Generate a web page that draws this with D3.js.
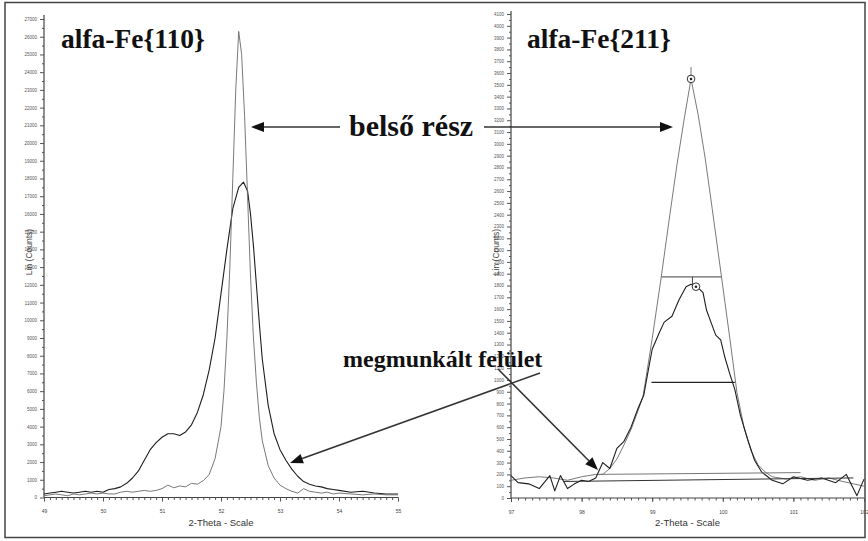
<!DOCTYPE html>
<html>
<head>
<meta charset="utf-8">
<script src="https://cdn.jsdelivr.net/npm/d3@7"></script>
<style>
  body { margin: 0; background: #fff; }
  svg { display: block; }
</style>
</head>
<body>
<div id="chart"></div>
<script>
// alfa-Fe{110} : [2-theta, counts]
var inner110 = [[49.0,100],[49.1,150],[49.2,200],[49.3,150],[49.4,100],[49.5,200],[49.6,150],[49.7,200],[49.8,250],[49.9,200],
  [50.0,250],[50.1,200],[50.2,200],[50.3,300],[50.4,350],[50.5,300],[50.6,350],[50.7,400],[50.8,350],[50.9,400],
  [51.0,500],[51.1,700],[51.2,550],[51.3,650],[51.4,600],[51.5,800],[51.6,750],[51.7,950],[51.8,1300],[51.9,2200],
  [52.0,4000],[52.05,6000],[52.1,9000],[52.15,13000],[52.2,18000],[52.25,23000],[52.3,26300],[52.35,25000],[52.4,21500],
  [52.45,17000],[52.5,12500],[52.55,9000],[52.6,6500],[52.65,4500],[52.7,3200],[52.8,1800],[52.9,1100],[53.0,700],
  [53.1,500],[53.2,350],[53.3,250],[53.4,500],[53.5,350],[53.6,300],[53.7,250],[53.8,300],[53.9,200],[54.0,250],
  [54.2,200],[54.4,150],[54.6,200],[54.8,150],[55.0,150]];
var surf110 = [[49.0,200],[49.1,250],[49.2,300],[49.3,350],[49.4,300],[49.5,250],[49.6,300],[49.7,350],[49.8,300],[49.9,350],
  [50.0,300],[50.1,450],[50.2,500],[50.3,600],[50.4,800],[50.5,1100],[50.6,1500],[50.7,2100],[50.8,2700],[50.9,3100],
  [51.0,3400],[51.1,3600],[51.2,3600],[51.3,3500],[51.4,3700],[51.5,4100],[51.6,4800],[51.7,5800],[51.8,7200],[51.9,9000],
  [52.0,11500],[52.1,14000],[52.2,16300],[52.3,17500],[52.38,17800],[52.45,17300],[52.5,16000],[52.55,14200],[52.6,12000],
  [52.65,9800],[52.7,7800],[52.8,5200],[52.9,3600],[53.0,2700],[53.1,2100],[53.2,1600],[53.3,1200],[53.4,900],
  [53.5,750],[53.6,650],[53.7,600],[53.8,500],[53.9,450],[54.0,400],[54.2,300],[54.4,350],[54.6,250],[54.8,200],[55.0,200]];

// alfa-Fe{211} : [2-theta, counts]
var inner211 = [[97.0,150],[97.2,170],[97.4,180],[97.6,170],[97.8,150],[98.0,180],[98.2,200],[98.3,200],[98.4,250],
  [98.5,330],[98.6,450],[98.7,580],[98.8,740],[98.87,860],[99.0,1350],[99.13,1880],[99.25,2400],[99.35,2820],
  [99.45,3200],[99.55,3550],[99.65,3250],[99.75,2880],[99.85,2450],[99.98,1880],[100.1,1350],[100.2,895],
  [100.3,600],[100.4,400],[100.5,280],[100.6,220],[100.7,180],[100.9,160],[101.1,180],[101.3,150],[101.5,170],
  [101.7,140],[101.85,120],[102.0,100]];
var surf211 = [[97.0,190],[97.1,130],[97.25,120],[97.4,80],[97.55,190],[97.62,60],[97.7,190],[97.8,80],[97.9,120],
  [98.0,150],[98.1,140],[98.2,170],[98.3,300],[98.4,250],[98.5,420],[98.6,480],[98.7,600],[98.8,760],[98.88,870],
  [98.95,1100],[99.0,1260],[99.1,1400],[99.17,1490],[99.28,1540],[99.38,1680],[99.48,1790],[99.55,1810],[99.62,1790],
  [99.67,1770],[99.72,1740],[99.77,1590],[99.85,1460],[99.9,1380],[99.97,1340],[100.03,1190],[100.1,1050],
  [100.17,920],[100.25,700],[100.35,500],[100.45,320],[100.55,220],[100.7,150],[100.85,120],[101.0,180],
  [101.2,150],[101.4,170],[101.6,130],[101.75,200],[101.9,20],[102.0,160]];
var fwhm211 = [[[99.13,1873],[99.98,1873]], [[98.99,980],[100.17,980]]];
var peaks211 = [[99.55,3550],[99.62,1790]];
var background211 = [[[98.25,200],[101.1,215]], [[97.75,140],[101.85,170]]];

var xTicks110 = [49, 50, 51, 52, 53, 54, 55];
var xTicks211 = [97, 98, 99, 100, 101, 102];
var yTicks110 = d3.range(0, 27001, 1000);
var yTicks211 = d3.range(0, 4101, 100);

var W = 868, H = 541;
var svg = d3.select("#chart").append("svg").attr("width", W).attr("height", H);

svg.append("rect").attr("x", 5).attr("y", 2.5).attr("width", 860).attr("height", 535)
  .attr("fill", "none").attr("stroke", "#444").attr("stroke-width", 1.5);

var innerColour = "#6a6a6a", surfColour = "#1e1e1e";
var serif = "'Liberation Serif', 'Times New Roman', serif";

function drawPanel(p) {
  var x = d3.scaleLinear().domain(p.xDomain).range(p.xRange);
  var y = d3.scaleLinear().domain(p.yDomain).range(p.yRange);
  var g = svg.append("g");

  // y axis
  g.append("g").attr("transform", "translate(" + p.xRange[0] + ",0)")
    .call(d3.axisLeft(y).tickValues(p.yTicks).tickSize(4).tickPadding(3).tickFormat(d3.format("d")))
    .call(a => a.select(".domain").remove())
    .call(a => a.selectAll("text").style("font-size", "4.5px").style("font-family", "Arial").attr("fill", "#555"))
    .call(a => a.selectAll("line").attr("stroke", "#555"));
  g.append("g").attr("transform", "translate(" + p.xRange[0] + ",0)")
    .call(d3.axisLeft(y).tickValues(p.yMinor).tickSize(2).tickFormat(""))
    .call(a => a.select(".domain").remove())
    .call(a => a.selectAll("line").attr("stroke", "#555"));
  g.append("line").attr("x1", p.xRange[0]).attr("x2", p.xRange[0])
    .attr("y1", p.yRange[0]).attr("y2", p.yTop).attr("stroke", "#444").attr("stroke-width", 1.2);

  // x axis
  g.append("g").attr("transform", "translate(0," + p.yRange[0] + ")")
    .call(d3.axisBottom(x).tickValues(p.xTicks).tickSize(4).tickPadding(8).tickFormat(d3.format("d")))
    .call(a => a.select(".domain").remove())
    .call(a => a.selectAll("text").style("font-size", "5px").style("font-family", "Arial").attr("fill", "#444"))
    .call(a => a.selectAll("line").attr("stroke", "#555"));
  g.append("g").attr("transform", "translate(0," + p.yRange[0] + ")")
    .call(d3.axisBottom(x).tickValues(p.xMinor).tickSize(2.5).tickFormat(""))
    .call(a => a.select(".domain").remove())
    .call(a => a.selectAll("line").attr("stroke", "#555"));
  g.append("line").attr("x1", p.xRange[0]).attr("x2", p.xRange[1])
    .attr("y1", p.yRange[0]).attr("y2", p.yRange[0]).attr("stroke", "#444").attr("stroke-width", 1.2);

  g.append("text").attr("x", (p.xRange[0] + p.xRange[1]) / 2).attr("y", 526)
    .attr("text-anchor", "middle").style("font-family", "Arial").style("font-size", "9.5px")
    .attr("fill", "#333").text("2-Theta - Scale");
  g.append("text").attr("transform", "translate(" + p.yLabelX + ",252) rotate(-90)")
    .attr("text-anchor", "middle").style("font-family", "Arial").style("font-size", "8.5px")
    .attr("fill", "#444").text("Lin (Counts)");

  var line = d3.line().x(d => x(d[0])).y(d => y(d[1]));
  p.series.forEach(function (s) {
    g.append("path").datum(s.data).attr("d", line).attr("fill", "none")
      .attr("stroke", s.colour).attr("stroke-width", s.width).attr("stroke-linejoin", "round");
  });

  g.append("text").attr("x", p.titleX).attr("y", 48)
    .style("font-family", serif).style("font-weight", "bold")
    .style("font-size", "27.5px").attr("fill", "#111").text(p.title);

  return {x: x, y: y, g: g};
}

var left = drawPanel({
  xDomain: [49, 55], xRange: [44, 398], yDomain: [0, 27000], yRange: [497.5, 19], yTop: 15,
  xTicks: xTicks110, xMinor: d3.range(49, 55.001, 0.1), yTicks: yTicks110, yMinor: d3.range(500, 27000, 1000),
  yLabelX: 32, titleX: 61, title: "alfa-Fe{110}",
  series: [{data: surf110, colour: surfColour, width: 1.1}, {data: inner110, colour: innerColour, width: 0.9}]
});

var right = drawPanel({
  xDomain: [97, 102], xRange: [511, 864], yDomain: [0, 4100], yRange: [498, 14], yTop: 11,
  xTicks: xTicks211, xMinor: d3.range(97, 102.001, 0.1), yTicks: yTicks211, yMinor: d3.range(50, 4100, 100),
  yLabelX: 499, titleX: 527, title: "alfa-Fe{211}",
  series: [{data: inner211, colour: innerColour, width: 0.9}, {data: surf211, colour: surfColour, width: 1.1}]
});

// FWHM, background and peak markers on the {211} panel
var lineR = d3.line().x(d => right.x(d[0])).y(d => right.y(d[1]));
right.g.selectAll(".fwhm").data(fwhm211).enter().append("path")
  .attr("d", lineR).attr("stroke", (d, i) => i ? "#222" : "#666").attr("stroke-width", 1.2).attr("fill", "none");
right.g.selectAll(".bg").data(background211).enter().append("path")
  .attr("d", lineR).attr("stroke", (d, i) => i ? "#333" : "#777").attr("stroke-width", 1).attr("fill", "none");
right.g.append("line").attr("x1", right.x(peaks211[0][0])).attr("x2", right.x(peaks211[0][0]))
  .attr("y1", right.y(peaks211[0][1])).attr("y2", right.y(peaks211[0][1]) - 12).attr("stroke", "#777");
right.g.append("line").attr("x1", right.x(99.57)).attr("x2", right.x(99.57))
  .attr("y1", right.y(1873)).attr("y2", right.y(1790)).attr("stroke", "#444");
right.g.selectAll(".pk").data(peaks211).enter().append("circle")
  .attr("cx", d => right.x(d[0])).attr("cy", d => right.y(d[1])).attr("r", 3.8)
  .attr("fill", "#fff").attr("stroke", "#333").attr("stroke-width", 1);
right.g.selectAll(".pkdot").data(peaks211).enter().append("circle")
  .attr("cx", d => right.x(d[0])).attr("cy", d => right.y(d[1])).attr("r", 1.3).attr("fill", "#222");

// annotations
function arrow(x1, y1, x2, y2) {
  var ang = Math.atan2(y2 - y1, x2 - x1), L = 13, w = 5;
  var bx = x2 - L * Math.cos(ang), by = y2 - L * Math.sin(ang);
  svg.append("line").attr("x1", x1).attr("y1", y1).attr("x2", bx).attr("y2", by)
    .attr("stroke", "#333").attr("stroke-width", 1.6);
  var pts = [[x2, y2], [bx + w * Math.sin(ang), by - w * Math.cos(ang)], [bx - w * Math.sin(ang), by + w * Math.cos(ang)]];
  svg.append("polygon").attr("points", pts.map(p => p.join(",")).join(" ")).attr("fill", "#111");
}
svg.append("text").attr("x", 349).attr("y", 136).style("font-family", serif).style("font-weight", "bold")
  .style("font-size", "30px").attr("fill", "#111").text("belső rész");
arrow(340, 127, 251, 127);
arrow(484, 127, 673, 127);
svg.append("text").attr("x", 343).attr("y", 367).style("font-family", serif).style("font-weight", "bold")
  .style("font-size", "24px").attr("fill", "#111").text("megmunkált felület");
arrow(540, 373, 290, 463);
arrow(498, 369, 598, 470);
</script>
</body>
</html>
